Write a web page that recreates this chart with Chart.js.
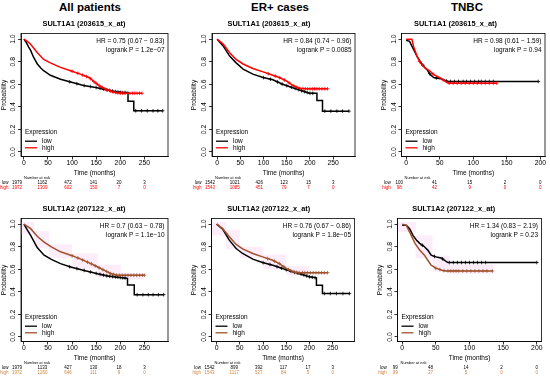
<!DOCTYPE html>
<html>
<head>
<meta charset="utf-8">
<script src="https://cdn.jsdelivr.net/npm/chart.js@4.4.0/dist/chart.umd.min.js"></script>
<style>
body { margin: 0; background: #fff; }
#fig { position: relative; width: 550px; height: 377px; overflow: hidden; font-family: "Liberation Sans", Arial, sans-serif; }
.col-title { position: absolute; top: 0; font-weight: bold; font-size: 11.5px; line-height: 14px; transform: translateX(-50%); white-space: nowrap; }
canvas { position: absolute; }
</style>
</head>
<body>
<div id="fig"></div>
<script>
// ---- data ----
const columnTitles = ['All patients', 'ER+ cases', 'TNBC'];
const probeTitles = ['SULT1A1 (203615_x_at)', 'SULT1A2 (207122_x_at)'];

const timeTicksLong = [0, 50, 100, 150, 200, 250];
const timeTicksTnbc = [0, 50, 100, 150, 200];
const probTicks = [0, 0.2, 0.4, 0.6, 0.8, 1.0];

const hrTexts = [
    'HR = 0.75 (0.67 \u2212 0.83)', 'HR = 0.84 (0.74 \u2212 0.96)', 'HR = 0.98 (0.61 \u2212 1.59)',
    'HR = 0.7 (0.63 \u2212 0.78)', 'HR = 0.76 (0.67 \u2212 0.86)', 'HR = 1.34 (0.83 \u2212 2.19)'
];
const pTexts = [
    'logrank P = 1.2e\u221207', 'logrank P = 0.0085', 'logrank P = 0.94',
    'logrank P = 1.1e\u221210', 'logrank P = 1.8e\u221205', 'logrank P = 0.23'
];

// survival curves [months, probability]
const allA1Low = [[0,1],[5,0.97],[10,0.93],[14,0.9],[20,0.84],[28,0.78],[35,0.745],[41,0.72],[55,0.68],[76,0.645],[97,0.62],[124,0.59],[152,0.57],[173,0.55],[190,0.535],[204,0.527],[216,0.527],[216,0.45],[228,0.45],[228,0.365],[288,0.365]];
const allA1High = [[0,1],[7,0.98],[14,0.955],[28,0.88],[41,0.82],[55,0.79],[76,0.75],[97,0.72],[117,0.69],[135,0.66],[148,0.615],[159,0.58],[173,0.55],[186,0.53],[200,0.52],[245,0.52]];
const erA1Low = [[0,1],[13,0.94],[27,0.85],[41,0.79],[56,0.735],[77,0.69],[99,0.66],[120,0.64],[141,0.6],[163,0.57],[184,0.54],[199,0.52],[215,0.52],[215,0.456],[227,0.456],[227,0.362],[284,0.362]];
const erA1High = [[0,1],[13,0.956],[27,0.88],[41,0.82],[56,0.78],[77,0.74],[99,0.71],[120,0.68],[134,0.66],[149,0.63],[163,0.59],[177,0.565],[191,0.56],[238,0.56]];
const tnA1Low = [[0,0.99],[5,0.98],[11,0.91],[16,0.85],[21,0.8],[26,0.76],[31,0.73],[36,0.685],[41,0.66],[51,0.65],[58,0.635],[62,0.625],[197,0.625]];
const tnA1High = [[0,1],[8.5,1],[11,0.935],[16,0.85],[21,0.79],[28,0.745],[36,0.715],[41,0.685],[51,0.656],[58,0.626],[63,0.61],[135,0.61]];
const allA2Low = [[0,1],[7,0.95],[14,0.9],[28,0.79],[42,0.725],[56,0.69],[76,0.65],[97,0.62],[125,0.59],[153,0.56],[174,0.54],[194,0.53],[215,0.52],[215,0.46],[229,0.46],[229,0.375],[290,0.375]];
const allA2High = [[0,1],[14,0.96],[28,0.89],[42,0.84],[56,0.8],[76,0.755],[97,0.725],[118,0.69],[139,0.65],[153,0.62],[167,0.59],[181,0.56],[194,0.547],[250,0.547]];
const erA2Low = [[0,1],[13,0.956],[27,0.86],[42,0.784],[56,0.74],[78,0.69],[99,0.66],[121,0.636],[142,0.607],[164,0.577],[185,0.553],[200,0.533],[215,0.524],[215,0.459],[228,0.459],[228,0.385],[286,0.385]];
const erA2High = [[0,1],[13,0.96],[27,0.89],[42,0.82],[56,0.78],[78,0.74],[99,0.71],[121,0.68],[135,0.65],[149,0.61],[164,0.58],[175,0.57],[239,0.57]];
const tnA2Low = [[0,0.99],[6,0.99],[11,0.96],[16,0.9],[21,0.86],[26,0.83],[33,0.8],[38,0.77],[43,0.725],[50,0.71],[58,0.7],[63,0.68],[68,0.66],[200,0.66]];
const tnA2High = [[0,1],[6,0.99],[11,0.93],[19,0.83],[26,0.77],[33,0.725],[38,0.68],[43,0.636],[50,0.61],[60,0.59],[65,0.585],[134,0.585]];

// censoring times (months)
const allA1LowCensor = [95,110,125,138,150,158,165,172,178,184,190,195,200,205,210,232,244,256,268,278,288];
const allA1HighCensor = [100,112,122,130,138,145,150,156,162,168,174,180,185,190,195,200,205,210,215,220,225,230,235,240,245];
const erA1LowCensor = [100,115,130,140,150,160,168,175,182,188,194,200,206,232,245,258,270,284];
const erA1HighCensor = [110,125,135,145,155,165,172,178,185,190,195,200,205,210,215,220,226,232,238];
const tnA1LowCensor = [25,35,45,60,66,72,78,85,90,96,102,108,112,118,124,130,197];
const tnA1HighCensor = [20,40,55,64,70,76,82,88,94,100,106,112,118,124,130,135];
const allA2LowCensor = [95,110,125,138,150,158,165,172,178,184,190,195,200,205,210,235,247,258,268,279,290];
const allA2HighCensor = [100,112,122,132,140,148,156,164,172,180,186,192,198,204,210,216,222,228,234,240,246,250];
const erA2LowCensor = [100,115,130,140,150,160,168,175,182,188,194,200,206,212,232,245,258,272,286];
const erA2HighCensor = [110,125,135,145,155,165,172,178,185,190,196,202,208,214,220,226,232,239];
const tnA2LowCensor = [30,48,60,70,76,82,88,94,100,106,112,118,124,200];
const tnA2HighCensor = [50,56,62,68,72,76,80,84,90,96,102,108,114,120,126,134];

// number at risk
const allA1RiskLow = [1979, 1162, 472, 141, 20, 3];
const allA1RiskHigh = [1972, 1309, 602, 150, 7, 0];
const erA1RiskLow = [1542, 1021, 426, 123, 15, 3];
const erA1RiskHigh = [1543, 1085, 451, 79, 7, 0];
const tnA1RiskLow = [100, 41, 15, 2, 0];
const tnA1RiskHigh = [98, 42, 9, 0, 0];
const allA2RiskLow = [1979, 1133, 427, 130, 18, 3];
const allA2RiskHigh = [1972, 1260, 646, 111, 9, 0];
const erA2RiskLow = [1542, 899, 392, 117, 17, 3];
const erA2RiskHigh = [1543, 1117, 527, 84, 5, 0];
const tnA2RiskLow = [99, 48, 14, 2, 0];
const tnA2RiskHigh = [99, 37, 5, 0, 0];

// pink shaded band behind the high curve (second probe)
const allA2BandEdges = [-6, 21, 52, 100, 153, 201, 250];
const allA2BandUpper = [1.02, 0.94, 0.82, 0.74, 0.64, 0.57];
const allA2BandLower = [0.91, 0.79, 0.70, 0.60, 0.53, 0.51];
const erA2BandEdges = [-11, 20, 50, 100, 150, 200];
const erA2BandUpper = [1.02, 0.95, 0.80, 0.73, 0.63];
const erA2BandLower = [0.90, 0.78, 0.70, 0.60, 0.55];
const tnA2BandEdges = [-7, 20, 45, 70, 135];
const tnA2BandUpper = [1.02, 0.90, 0.72, 0.64];
const tnA2BandLower = [0.93, 0.70, 0.58, 0.56];

// ---- layout ----
const fontFamily = '"Liberation Sans", Arial, sans-serif';
const titleCenters = [90, 280, 467];
const panelBoxes = [
    {x0: 0,   y0: 17,  w: 183, h: 175, left: 21,    right: 168,   top: 33.5,  bottom: 156.5, xMin: -6,  xMax: 299},
    {x0: 183, y0: 17,  w: 183, h: 175, left: 212,   right: 355,   top: 33.5,  bottom: 156.5, xMin: -11, xMax: 297},
    {x0: 366, y0: 17,  w: 184, h: 175, left: 401.5, right: 545,   top: 33.5,  bottom: 156.5, xMin: -7,  xMax: 207},
    {x0: 0,   y0: 201, w: 183, h: 176, left: 21,    right: 168,   top: 218.5, bottom: 341.5, xMin: -6,  xMax: 299},
    {x0: 183, y0: 201, w: 183, h: 176, left: 211.5, right: 354.5, top: 218.5, bottom: 341.5, xMin: -11, xMax: 297},
    {x0: 366, y0: 201, w: 184, h: 176, left: 397.5, right: 541.5, top: 218.5, bottom: 341.5, xMin: -7,  xMax: 207}
];

const panels = [
    {low: allA1Low, high: allA1High, lowC: allA1LowCensor, highC: allA1HighCensor, riskLow: allA1RiskLow, riskHigh: allA1RiskHigh, ticks: timeTicksLong, probe: 0},
    {low: erA1Low, high: erA1High, lowC: erA1LowCensor, highC: erA1HighCensor, riskLow: erA1RiskLow, riskHigh: erA1RiskHigh, ticks: timeTicksLong, probe: 0},
    {low: tnA1Low, high: tnA1High, lowC: tnA1LowCensor, highC: tnA1HighCensor, riskLow: tnA1RiskLow, riskHigh: tnA1RiskHigh, ticks: timeTicksTnbc, probe: 0},
    {low: allA2Low, high: allA2High, lowC: allA2LowCensor, highC: allA2HighCensor, riskLow: allA2RiskLow, riskHigh: allA2RiskHigh, ticks: timeTicksLong, probe: 1,
     band: [allA2BandEdges, allA2BandUpper, allA2BandLower]},
    {low: erA2Low, high: erA2High, lowC: erA2LowCensor, highC: erA2HighCensor, riskLow: erA2RiskLow, riskHigh: erA2RiskHigh, ticks: timeTicksLong, probe: 1,
     band: [erA2BandEdges, erA2BandUpper, erA2BandLower]},
    {low: tnA2Low, high: tnA2High, lowC: tnA2LowCensor, highC: tnA2HighCensor, riskLow: tnA2RiskLow, riskHigh: tnA2RiskHigh, ticks: timeTicksTnbc, probe: 1,
     band: [tnA2BandEdges, tnA2BandUpper, tnA2BandLower]}
];

const highColors = ['#ff0000', '#a0522d'];
const highTableColors = ['#ff0000', '#cd853f'];
const bandColor = 'rgba(248, 196, 238, 0.32)';

const toPoints = (pairs) => pairs.map(([x, y]) => ({x: x, y: y}));

// value of a drawn curve at time t
const valueAt = (pairs, t) => {
    for (let i = pairs.length - 1; i > 0; i--) {
        const [x0, y0] = pairs[i - 1];
        const [x1, y1] = pairs[i];
        if (t >= x0 && t <= x1) {
            if (x1 === x0) return y1;
            return y0 + (y1 - y0) * (t - x0) / (x1 - x0);
        }
    }
    return pairs[pairs.length - 1][1];
};

const censorPoints = (pairs, times) => times.map(t => ({x: t, y: valueAt(pairs, t)}));

const bandPoints = (edges, vals) => {
    const pts = [];
    vals.forEach((v, i) => {
        pts.push({x: edges[i], y: v});
        pts.push({x: edges[i + 1], y: v});
    });
    return pts;
};

// box, HR text, legend and number-at-risk table
const panelDecor = {
    id: 'panelDecor',
    afterDraw(chart, args, opts) {
        const {ctx, chartArea: a} = chart;
        const xs = chart.scales.x;
        ctx.save();
        ctx.strokeStyle = '#000';
        ctx.lineWidth = 0.8;
        ctx.strokeRect(a.left, a.top, a.right - a.left, a.bottom - a.top);

        ctx.fillStyle = '#000';
        ctx.font = '6.5px ' + fontFamily;
        ctx.textAlign = 'right';
        ctx.textBaseline = 'middle';
        ctx.fillText(opts.hr, a.right - 3.5, a.top + 8.2);
        ctx.fillText(opts.p, a.right - 3.5, a.top + 16.5);

        // legend
        ctx.textAlign = 'left';
        ctx.fillText('Expression', a.left + 4, a.bottom - 24.6);
        const items = chart.data.datasets.filter(d => d.legendText)
            .sort((d1, d2) => d1.legendRank - d2.legendRank);
        items.forEach((d, i) => {
            const y = a.bottom - 15.3 + i * 6.6;
            ctx.strokeStyle = d.borderColor;
            ctx.lineWidth = 1.3;
            ctx.beginPath();
            ctx.moveTo(a.left + 4, y);
            ctx.lineTo(a.left + 16, y);
            ctx.stroke();
            ctx.fillStyle = '#000';
            ctx.fillText(d.legendText, a.left + 21, y);
        });

        // number at risk
        ctx.fillStyle = '#000';
        ctx.font = '4px ' + fontFamily;
        ctx.fillText('Number at risk', a.left + 3, a.bottom + 21);
        ctx.font = '4.5px ' + fontFamily;
        const last = opts.ticks[opts.ticks.length - 1];
        opts.rows.forEach((row, r) => {
            const y = a.bottom + 26.5 + r * 4.7;
            ctx.fillStyle = row.color;
            ctx.textAlign = 'right';
            ctx.fillText(row.label, xs.getPixelForValue(0) - 15.5, y);
            ctx.textAlign = 'center';
            row.values.forEach((v, i) => {
                const t = opts.ticks[i];
                ctx.fillText(String(v), xs.getPixelForValue(t) - 7 * (1 - t / last), y);
            });
        });
        ctx.restore();
    }
};

const buildPanel = (panel, idx) => {
    const box = panelBoxes[idx];
    const canvas = document.createElement('canvas');
    canvas.width = box.w;
    canvas.height = box.h;
    canvas.style.left = box.x0 + 'px';
    canvas.style.top = box.y0 + 'px';
    canvas.style.width = box.w + 'px';
    canvas.style.height = box.h + 'px';
    document.getElementById('fig').appendChild(canvas);

    const highColor = highColors[panel.probe];
    const datasets = [
        {data: censorPoints(panel.high, panel.highC), showLine: false, pointStyle: 'cross',
         pointRadius: 1.8, borderColor: highColor, borderWidth: 0.8},
        {data: toPoints(panel.high), showLine: true, borderColor: highColor, borderWidth: 1.5,
         pointRadius: 0, legendText: 'high', legendRank: 1},
        {data: censorPoints(panel.low, panel.lowC), showLine: false, pointStyle: 'cross',
         pointRadius: 1.8, borderColor: '#000', borderWidth: 0.8},
        {data: toPoints(panel.low), showLine: true, borderColor: '#000', borderWidth: 1.5,
         pointRadius: 0, legendText: 'low', legendRank: 0}
    ];
    if (panel.band) {
        const [edges, upper, lower] = panel.band;
        datasets.push({data: bandPoints(edges, upper), showLine: true, borderWidth: 0, pointRadius: 0,
                       borderColor: 'rgba(0,0,0,0)', backgroundColor: bandColor, fill: '+1'});
        datasets.push({data: bandPoints(edges, lower), showLine: true, borderWidth: 0, pointRadius: 0,
                       borderColor: 'rgba(0,0,0,0)', fill: false});
    }

    const titleLine = 7.4 * 1.2;
    const xAxisHeight = 22;
    const tickFont = {family: fontFamily, size: 6.8};
    const labelFont = {family: fontFamily, size: 6.5};
    const axisGrid = {drawOnChartArea: false, drawTicks: true, tickLength: 3, color: '#000', lineWidth: 0.8};

    new Chart(canvas, {
        type: 'scatter',
        data: {datasets: datasets},
        options: {
            responsive: false,
            animation: false,
            layout: {
                padding: {left: 0, top: 0, right: box.x0 + box.w - box.right,
                          bottom: box.y0 + box.h - box.bottom - xAxisHeight}
            },
            scales: {
                x: {
                    type: 'linear',
                    min: box.xMin,
                    max: box.xMax,
                    afterBuildTicks: s => { s.ticks = panel.ticks.map(v => ({value: v})); },
                    afterFit: s => { s.height = xAxisHeight; },
                    ticks: {font: tickFont, color: '#000', padding: 0, maxRotation: 0, autoSkip: false,
                            callback: v => String(v)},
                    grid: axisGrid,
                    border: {display: true, color: '#000', width: 0.8},
                    title: {display: true, text: 'Time (months)', font: labelFont, color: '#000',
                            padding: {top: 0, bottom: 1.6}}
                },
                y: {
                    type: 'linear',
                    min: -0.04,
                    max: 1.05,
                    afterBuildTicks: s => { s.ticks = probTicks.map(v => ({value: v})); },
                    afterFit: s => { s.width = box.left - box.x0; },
                    ticks: {font: tickFont, color: '#000', padding: 0, minRotation: 90, maxRotation: 90,
                            crossAlign: 'center', callback: v => v.toFixed(1)},
                    grid: axisGrid,
                    border: {display: true, color: '#000', width: 0.8},
                    title: {display: true, text: 'Probability', font: labelFont, color: '#000',
                            padding: {top: Math.max(0, box.left - 17.5 - box.x0 - 3.9), bottom: 0}}
                }
            },
            plugins: {
                legend: {display: false},
                tooltip: {enabled: false},
                title: {
                    display: true,
                    text: probeTitles[panel.probe],
                    color: '#000',
                    font: {family: fontFamily, size: 7.4, weight: 'bold'},
                    padding: {top: box.top - box.y0 - 4.76 - titleLine, bottom: 4.76}
                },
                panelDecor: {
                    hr: hrTexts[idx],
                    p: pTexts[idx],
                    ticks: panel.ticks,
                    rows: [
                        {label: 'low', color: '#000', values: panel.riskLow},
                        {label: 'high', color: highTableColors[panel.probe], values: panel.riskHigh}
                    ]
                }
            }
        },
        plugins: [panelDecor]
    });
};

window.onload = () => {
    const fig = document.getElementById('fig');
    columnTitles.forEach((text, i) => {
        const div = document.createElement('div');
        div.className = 'col-title';
        div.style.left = titleCenters[i] + 'px';
        div.textContent = text;
        fig.appendChild(div);
    });
    panels.forEach((panel, idx) => buildPanel(panel, idx));
};
</script>
</body>
</html>
